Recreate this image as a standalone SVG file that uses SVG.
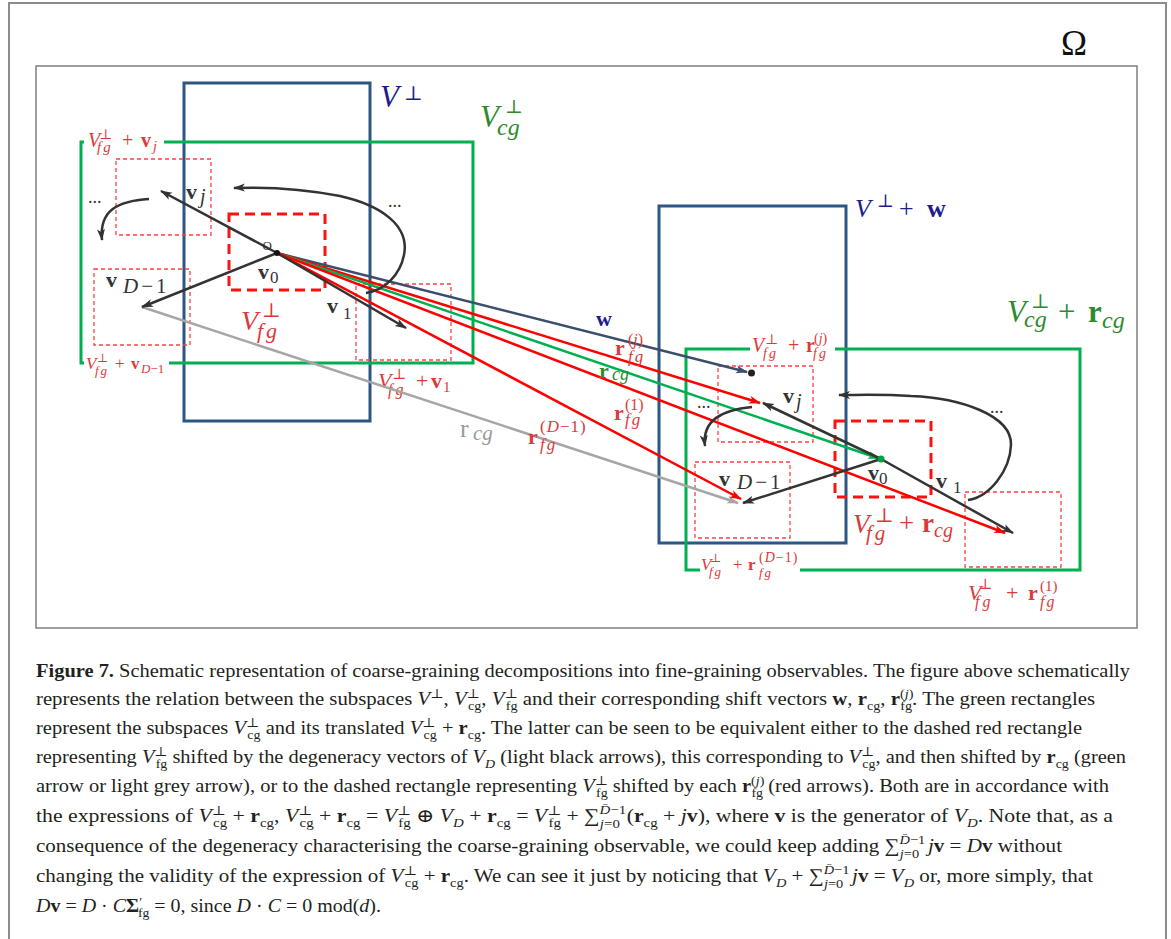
<svg xmlns="http://www.w3.org/2000/svg" width="1171" height="939" viewBox="0 0 1171 939">
<style>
text{font-family:'Liberation Serif','DejaVu Serif',serif;}
.i{font-style:italic}
.b{font-weight:bold}
.navy{fill:#1c1c8f}
.grn{fill:#2d8a2d}
.red{fill:#dc3a3a}
.dk{fill:#333333}
.blue{fill:none;stroke:#2c5785;stroke-width:3}
.green{fill:none;stroke:#00b050;stroke-width:3}
.dthick{fill:none;stroke:#ff1010;stroke-width:3;stroke-dasharray:10 6}
.dthin{fill:none;stroke:#ff4040;stroke-width:1.3;stroke-dasharray:4 3}
.arr{fill:none;stroke-width:2.5}
.cap{font-size:19px;fill:#231f20}
.s{font-size:13px}
</style>
<defs>
<marker id="ak" viewBox="0 0 12 9" refX="11" refY="4.5" markerWidth="12" markerHeight="9" markerUnits="userSpaceOnUse" orient="auto"><path d="M0,0.5 L12,4.5 L0,8.5 L3,4.5 z" fill="#333333"/></marker>
<marker id="ar" viewBox="0 0 12 9" refX="11" refY="4.5" markerWidth="12" markerHeight="9" markerUnits="userSpaceOnUse" orient="auto"><path d="M0,0.5 L12,4.5 L0,8.5 L3,4.5 z" fill="#ff0000"/></marker>
<marker id="ag" viewBox="0 0 12 9" refX="11" refY="4.5" markerWidth="12" markerHeight="9" markerUnits="userSpaceOnUse" orient="auto"><path d="M0,0.5 L12,4.5 L0,8.5 L3,4.5 z" fill="#00b050"/></marker>
<marker id="agr" viewBox="0 0 12 9" refX="11" refY="4.5" markerWidth="12" markerHeight="9" markerUnits="userSpaceOnUse" orient="auto"><path d="M0,0.5 L12,4.5 L0,8.5 L3,4.5 z" fill="#a6a6a6"/></marker>
<marker id="aw" viewBox="0 0 12 9" refX="11" refY="4.5" markerWidth="12" markerHeight="9" markerUnits="userSpaceOnUse" orient="auto"><path d="M0,0.5 L12,4.5 L0,8.5 L3,4.5 z" fill="#3b4e6b"/></marker>
</defs>

<g id="frames">
<rect x="9" y="3" width="1157" height="960" fill="none" stroke="#8c8c8c" stroke-width="2"/>
<rect x="36" y="66" width="1101" height="562" fill="none" stroke="#7f7f7f" stroke-width="1.5"/>
<text x="1061" y="55" font-size="35" fill="#111">Ω</text>
</g>

<g id="V_perp">
<rect class="blue" x="184" y="83" width="186" height="338"/>
<text class="navy" font-size="31"><tspan class="i" x="380" y="107">V</tspan><tspan x="404" y="100" font-size="20">⊥</tspan></text>
</g>

<g id="V_perp_w">
<rect class="blue" x="659" y="206" width="187" height="337"/>
<text class="navy" font-size="26"><tspan class="i" x="855" y="217">V</tspan><tspan x="877" y="207" font-size="18">⊥</tspan><tspan x="899" y="217">+</tspan><tspan class="b" x="927" y="217">w</tspan></text>
</g>

<g id="V_cg">
<path class="green" d="M84,142 H81 V363 H84 M169,363 H473 V142 H164"/>
<text class="grn" font-size="31"><tspan class="i" x="480" y="127">V</tspan><tspan x="505" y="113" font-size="19">⊥</tspan><tspan class="i" x="497" y="135" font-size="24">cg</tspan></text>
<text class="red" font-size="20"><tspan class="i" x="88" y="147">V</tspan><tspan x="99" y="139" font-size="14">⊥</tspan><tspan class="i" x="97" y="152" font-size="15" letter-spacing="2">fg</tspan><tspan x="122" y="147">+</tspan><tspan class="b" x="141" y="147">v</tspan><tspan class="i" x="153" y="151" font-size="14">j</tspan></text>
<text class="red" font-size="17"><tspan class="i" x="86" y="369">V</tspan><tspan x="97" y="362" font-size="12">⊥</tspan><tspan class="i" x="95" y="375" font-size="13" letter-spacing="2">fg</tspan><tspan x="115" y="369">+</tspan><tspan class="b" x="131" y="369">v</tspan><tspan class="i" x="141" y="373" font-size="13">D</tspan><tspan font-size="13">−1</tspan></text>
</g>

<g id="V_cg_rcg">
<path class="green" d="M750,349 H686 V570 H700 M800,570 H1080 V349 H835"/>
<text class="grn" font-size="31"><tspan class="i" x="1007" y="322">V</tspan><tspan x="1031" y="308" font-size="20">⊥</tspan><tspan class="i" x="1024" y="327" font-size="24">cg</tspan><tspan x="1058" y="322">+</tspan><tspan class="b" x="1088" y="322">r</tspan><tspan class="i" x="1102" y="328" font-size="24">cg</tspan></text>
<text class="red" font-size="20"><tspan class="i" x="752" y="352">V</tspan><tspan x="765" y="344" font-size="14">⊥</tspan><tspan class="i" x="763" y="358" font-size="14" letter-spacing="2">fg</tspan><tspan x="788" y="352">+</tspan><tspan class="b" x="806" y="352">r</tspan><tspan x="814" y="343" font-size="14">(</tspan><tspan class="i" font-size="14">j</tspan><tspan font-size="14">)</tspan><tspan class="i" x="813" y="358" font-size="14" letter-spacing="2">fg</tspan></text>
<text class="red" font-size="17"><tspan class="i" x="701" y="570">V</tspan><tspan x="710" y="562" font-size="12">⊥</tspan><tspan class="i" x="709" y="576" font-size="13" letter-spacing="2">fg</tspan><tspan x="733" y="570">+</tspan><tspan class="b" x="748" y="570">r</tspan><tspan x="759" y="562" font-size="14" letter-spacing="1">(</tspan><tspan class="i" font-size="14" letter-spacing="1">D</tspan><tspan font-size="14" letter-spacing="1">−1)</tspan><tspan class="i" x="759" y="577" font-size="13" letter-spacing="2">fg</tspan></text>
</g>

<g id="Vfg_group1">
<rect class="dthick" x="229" y="214" width="96" height="76"/>
<text class="red" font-size="28"><tspan class="i" x="241" y="330">V</tspan><tspan x="262" y="317" font-size="20">⊥</tspan><tspan class="i" x="257" y="338" font-size="22" letter-spacing="3">fg</tspan></text>
<rect class="dthin" x="116" y="159" width="95" height="76"/>
<rect class="dthin" x="94" y="269" width="96" height="76"/>
<rect class="dthin" x="356" y="284" width="95" height="76"/>
<text class="red" font-size="22"><tspan class="i" x="378" y="388">V</tspan><tspan x="392" y="379" font-size="15">⊥</tspan><tspan class="i" x="388" y="395" font-size="16" letter-spacing="3">fg</tspan><tspan x="416" y="388">+</tspan><tspan class="b" x="431" y="388">v</tspan><tspan x="443" y="392" font-size="15">1</tspan></text>
<text class="dk" font-size="22"><tspan class="b" x="186" y="199">v</tspan><tspan class="i" x="200" y="203" font-size="20">j</tspan></text>
<text class="dk" font-size="22"><tspan class="b" x="258" y="279">v</tspan><tspan x="270" y="283" font-size="17">0</tspan></text>
<text class="dk" font-size="22"><tspan class="b" x="106" y="287">v</tspan><tspan class="i" x="123" y="293" font-size="21" letter-spacing="3">D</tspan><tspan font-size="21" letter-spacing="3">−1</tspan></text>
<text class="dk" font-size="22"><tspan class="b" x="327" y="313">v</tspan><tspan x="343" y="319" font-size="17">1</tspan></text>
<text class="dk" x="262.5" y="249.5" font-size="13">O</text>
<text class="dk" x="88" y="203" font-size="18">...</text>
<text class="dk" x="388" y="207" font-size="18">...</text>
</g>

<g id="Vfg_group2">
<rect class="dthick" x="835" y="421" width="96" height="76"/>
<text class="red" font-size="27"><tspan class="i" x="853" y="533">V</tspan><tspan x="875" y="522" font-size="20">⊥</tspan><tspan class="i" x="866" y="540" font-size="21" letter-spacing="3">fg</tspan><tspan x="899" y="532">+</tspan><tspan class="b" x="922" y="532">r</tspan><tspan class="i" x="934" y="537" font-size="20">cg</tspan></text>
<rect class="dthin" x="718" y="366" width="95" height="76"/>
<rect class="dthin" x="695" y="462" width="95" height="76"/>
<rect class="dthin" x="965" y="492" width="96" height="75"/>
<text class="red" font-size="22"><tspan class="i" x="968" y="600">V</tspan><tspan x="978" y="589" font-size="15">⊥</tspan><tspan class="i" x="975" y="607" font-size="16" letter-spacing="3">fg</tspan><tspan x="1006" y="600">+</tspan><tspan class="b" x="1028" y="600">r</tspan><tspan x="1040" y="591" font-size="15">(1)</tspan><tspan class="i" x="1040" y="607" font-size="16" letter-spacing="2">fg</tspan></text>
<text class="dk" font-size="22"><tspan class="b" x="783" y="403">v</tspan><tspan class="i" x="796" y="408" font-size="20">j</tspan></text>
<text class="dk" font-size="22"><tspan class="b" x="868" y="480">v</tspan><tspan x="879" y="484" font-size="17">0</tspan></text>
<text class="dk" font-size="22"><tspan class="b" x="719" y="486">v</tspan><tspan class="i" x="737" y="489" font-size="21" letter-spacing="3">D</tspan><tspan font-size="21" letter-spacing="3">−1</tspan></text>
<text class="dk" font-size="22"><tspan class="b" x="936" y="488">v</tspan><tspan x="953" y="493" font-size="17">1</tspan></text>
<text class="dk" x="697" y="408" font-size="18">...</text>
<text class="dk" x="990" y="413" font-size="18">...</text>
</g>

<g id="connectors">
<line class="arr" stroke="#a6a6a6" x1="142" y1="307" x2="738" y2="503" marker-end="url(#agr)"/>
<line class="arr" stroke="#3b4e6b" x1="277" y1="253" x2="747" y2="372" marker-end="url(#aw)"/>
<line class="arr" stroke="#ff0000" x1="277" y1="253" x2="760" y2="403" marker-end="url(#ar)"/>
<line class="arr" stroke="#00b050" x1="277" y1="253" x2="879" y2="458.5" marker-end="url(#ag)"/>
<line class="arr" stroke="#ff0000" x1="277" y1="253" x2="1005" y2="533" marker-end="url(#ar)"/>
<line class="arr" stroke="#ff0000" x1="277" y1="253" x2="741" y2="499" marker-end="url(#ar)"/>
<line class="arr" stroke="#333333" x1="277" y1="253" x2="161" y2="191" marker-end="url(#ak)"/>
<line class="arr" stroke="#333333" x1="277" y1="253" x2="142" y2="307" marker-end="url(#ak)"/>
<line class="arr" stroke="#333333" x1="277" y1="253" x2="406" y2="328" marker-end="url(#ak)"/>
<line class="arr" stroke="#333333" x1="881" y1="459" x2="763" y2="403" marker-end="url(#ak)"/>
<line class="arr" stroke="#333333" x1="881" y1="459" x2="743" y2="503" marker-end="url(#ak)"/>
<line class="arr" stroke="#333333" x1="881" y1="459" x2="1013" y2="533" marker-end="url(#ak)"/>
<path class="arr" stroke="#333333" d="M149,199 C118,201 99,210 102,240" marker-end="url(#ak)"/>
<path class="arr" stroke="#333333" d="M366,293 C385,290 400,275 404,255 C410,225 380,205 340,196 C300,188 260,187 234,188" marker-end="url(#ak)"/>
<path class="arr" stroke="#333333" d="M752,407 C722,410 702,420 705,446" marker-end="url(#ak)"/>
<path class="arr" stroke="#333333" d="M968,500 C990,497 1010,470 1011,445 C1012,415 960,398 911,396 C880,394 860,395 839,395" marker-end="url(#ak)"/>
<circle cx="277" cy="253" r="3" fill="#111"/>
<circle cx="751.5" cy="373" r="3.5" fill="#222"/>
<circle cx="881" cy="459" r="3.5" fill="#00a040"/>
</g>

<g id="connector-labels">
<text class="navy b" x="596" y="326" font-size="22">w</text>
<text class="red" font-size="22"><tspan class="b" x="615" y="355">r</tspan><tspan x="628" y="345" font-size="16">(</tspan><tspan class="i" font-size="16">j</tspan><tspan font-size="16">)</tspan><tspan class="i" x="628" y="362" font-size="17" letter-spacing="2">fg</tspan></text>
<text class="grn" font-size="22"><tspan class="b" x="599" y="378">r</tspan><tspan class="i" x="612" y="380" font-size="18">cg</tspan></text>
<text class="red" font-size="22"><tspan class="b" x="614" y="420">r</tspan><tspan x="625" y="410" font-size="16">(1)</tspan><tspan class="i" x="625" y="425" font-size="17" letter-spacing="2">fg</tspan></text>
<text class="red" font-size="22"><tspan class="b" x="528" y="444">r</tspan><tspan x="540" y="432" font-size="17" letter-spacing="1">(</tspan><tspan class="i" font-size="17" letter-spacing="1">D</tspan><tspan font-size="17" letter-spacing="1">−1)</tspan><tspan class="i" x="540" y="450" font-size="17" letter-spacing="2">fg</tspan></text>
<text fill="#999" font-size="26"><tspan x="460" y="437">r</tspan><tspan class="i" x="473" y="440" font-size="21">cg</tspan></text>
</g>

<g id="caption">
<text class="cap" x="36" y="677" textLength="1094" lengthAdjust="spacingAndGlyphs"><tspan class="b">Figure 7.</tspan> Schematic representation of coarse-graining decompositions into fine-graining observables. The figure above schematically</text>
<text class="cap" x="36" y="705" textLength="1059" lengthAdjust="spacingAndGlyphs">represents the relation between the subspaces <tspan class="i">V</tspan><tspan class="s" baseline-shift="7">⊥</tspan>, <tspan class="i">V</tspan><tspan class="s" baseline-shift="7">⊥</tspan><tspan class="s" dx="-11" baseline-shift="-5">cg</tspan>, <tspan class="i">V</tspan><tspan class="s" baseline-shift="7">⊥</tspan><tspan class="s" dx="-11" baseline-shift="-5">fg</tspan> and their corresponding shift vectors <tspan class="b">w</tspan>, <tspan class="b">r</tspan><tspan class="s" baseline-shift="-5">cg</tspan>, <tspan class="b">r</tspan><tspan class="s" baseline-shift="7">(</tspan><tspan class="s i" baseline-shift="7">j</tspan><tspan class="s" baseline-shift="7">)</tspan><tspan class="s" dx="-12" baseline-shift="-5">fg</tspan>. The green rectangles</text>
<text class="cap" x="36" y="734" textLength="1046" lengthAdjust="spacingAndGlyphs">represent the subspaces <tspan class="i">V</tspan><tspan class="s" baseline-shift="7">⊥</tspan><tspan class="s" dx="-11" baseline-shift="-5">cg</tspan> and its translated <tspan class="i">V</tspan><tspan class="s" baseline-shift="7">⊥</tspan><tspan class="s" dx="-11" baseline-shift="-5">cg</tspan> + <tspan class="b">r</tspan><tspan class="s" baseline-shift="-5">cg</tspan>. The latter can be seen to be equivalent either to the dashed red rectangle</text>
<text class="cap" x="36" y="763" textLength="1090" lengthAdjust="spacingAndGlyphs">representing <tspan class="i">V</tspan><tspan class="s" baseline-shift="7">⊥</tspan><tspan class="s" dx="-11" baseline-shift="-5">fg</tspan> shifted by the degeneracy vectors of <tspan class="i">V</tspan><tspan class="s i" baseline-shift="-5">D</tspan> (light black arrows), this corresponding to <tspan class="i">V</tspan><tspan class="s" baseline-shift="7">⊥</tspan><tspan class="s" dx="-11" baseline-shift="-5">cg</tspan>, and then shifted by <tspan class="b">r</tspan><tspan class="s" baseline-shift="-5">cg</tspan> (green</text>
<text class="cap" x="36" y="792" textLength="1073" lengthAdjust="spacingAndGlyphs">arrow or light grey arrow), or to the dashed rectangle representing <tspan class="i">V</tspan><tspan class="s" baseline-shift="7">⊥</tspan><tspan class="s" dx="-11" baseline-shift="-5">fg</tspan> shifted by each <tspan class="b">r</tspan><tspan class="s" baseline-shift="7">(</tspan><tspan class="s i" baseline-shift="7">j</tspan><tspan class="s" baseline-shift="7">)</tspan><tspan class="s" dx="-12" baseline-shift="-5">fg</tspan> (red arrows). Both are in accordance with</text>
<text class="cap" x="36" y="822" textLength="1077" lengthAdjust="spacingAndGlyphs">the expressions of <tspan class="i">V</tspan><tspan class="s" baseline-shift="7">⊥</tspan><tspan class="s" dx="-11" baseline-shift="-5">cg</tspan> + <tspan class="b">r</tspan><tspan class="s" baseline-shift="-5">cg</tspan>, <tspan class="i">V</tspan><tspan class="s" baseline-shift="7">⊥</tspan><tspan class="s" dx="-11" baseline-shift="-5">cg</tspan> + <tspan class="b">r</tspan><tspan class="s" baseline-shift="-5">cg</tspan> = <tspan class="i">V</tspan><tspan class="s" baseline-shift="7">⊥</tspan><tspan class="s" dx="-11" baseline-shift="-5">fg</tspan> ⊕ <tspan class="i">V</tspan><tspan class="s i" baseline-shift="-5">D</tspan> + <tspan class="b">r</tspan><tspan class="s" baseline-shift="-5">cg</tspan> = <tspan class="i">V</tspan><tspan class="s" baseline-shift="7">⊥</tspan><tspan class="s" dx="-11" baseline-shift="-5">fg</tspan> + ∑<tspan class="s i" baseline-shift="8">D&#x304;</tspan><tspan class="s" baseline-shift="8">−1</tspan><tspan class="s i" dx="-23" baseline-shift="-6">j</tspan><tspan class="s" baseline-shift="-6">=0</tspan><tspan dx="6">(</tspan><tspan class="b">r</tspan><tspan class="s" baseline-shift="-5">cg</tspan> + <tspan class="i">j</tspan><tspan class="b">v</tspan>), where <tspan class="b">v</tspan> is the generator of <tspan class="i">V</tspan><tspan class="s i" baseline-shift="-5">D</tspan>. Note that, as a</text>
<text class="cap" x="36" y="852" textLength="1026" lengthAdjust="spacingAndGlyphs">consequence of the degeneracy characterising the coarse-graining observable, we could keep adding ∑<tspan class="s i" baseline-shift="8">D&#x304;</tspan><tspan class="s" baseline-shift="8">−1</tspan><tspan class="s i" dx="-23" baseline-shift="-6">j</tspan><tspan class="s" baseline-shift="-6">=0</tspan><tspan class="i" dx="8">j</tspan><tspan class="b">v</tspan> = <tspan class="i">D</tspan><tspan class="b">v</tspan> without</text>
<text class="cap" x="36" y="882" textLength="1057" lengthAdjust="spacingAndGlyphs">changing the validity of the expression of <tspan class="i">V</tspan><tspan class="s" baseline-shift="7">⊥</tspan><tspan class="s" dx="-11" baseline-shift="-5">cg</tspan> + <tspan class="b">r</tspan><tspan class="s" baseline-shift="-5">cg</tspan>. We can see it just by noticing that <tspan class="i">V</tspan><tspan class="s i" baseline-shift="-5">D</tspan> + ∑<tspan class="s i" baseline-shift="8">D&#x304;</tspan><tspan class="s" baseline-shift="8">−1</tspan><tspan class="s i" dx="-23" baseline-shift="-6">j</tspan><tspan class="s" baseline-shift="-6">=0</tspan><tspan class="i" dx="8">j</tspan><tspan class="b">v</tspan> = <tspan class="i">V</tspan><tspan class="s i" baseline-shift="-5">D</tspan> or, more simply, that</text>
<text class="cap" x="36" y="912" textLength="345" lengthAdjust="spacingAndGlyphs"><tspan class="i">D</tspan><tspan class="b">v</tspan> = <tspan class="i">D</tspan> · <tspan class="i">C</tspan><tspan class="b">Σ</tspan><tspan class="s" baseline-shift="6">′</tspan><tspan class="s" dx="-4" baseline-shift="-5">fg</tspan> = 0, since <tspan class="i">D</tspan> · <tspan class="i">C</tspan> = 0 mod(<tspan class="i">d</tspan>).</text>
</g>
</svg>
